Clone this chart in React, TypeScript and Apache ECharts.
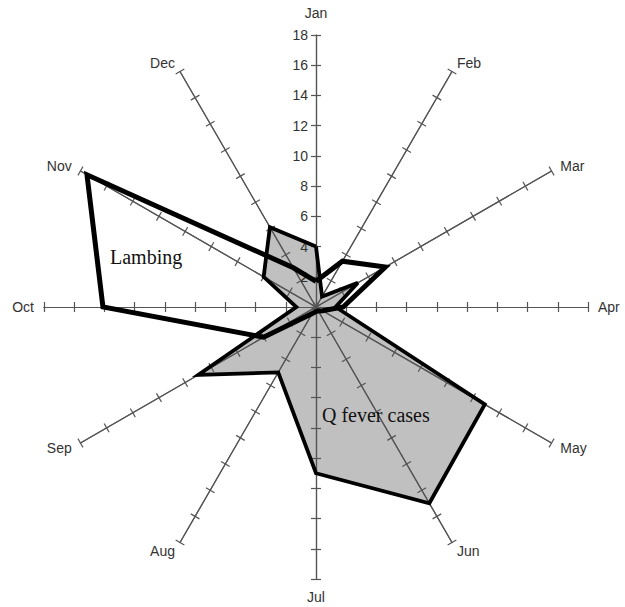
import React, { useEffect, useRef } from "react";
import * as echarts from "echarts";

const months = ["Jan", "Feb", "Mar", "Apr", "May", "Jun", "Jul", "Aug", "Sep", "Oct", "Nov", "Dec"];
const qFeverCases = [4, 0.8, 3.2, 1.3, 12.9, 15, 11, 5, 9, 1.3, 4, 6.1];
const lambing = [1.7, 3.5, 5.3, 1.8, 0.5, 0.3, 0.3, 0.5, 4, 14.1, 17.5, 3];
const axisMax = 18;
const axisStep = 2;

// ECharts lays radar indicators counter-clockwise; reorder so months run clockwise.
const order = [0, 11, 10, 9, 8, 7, 6, 5, 4, 3, 2, 1];

export default function App() {
  const ref = useRef<HTMLDivElement>(null);

  useEffect(() => {
    if (!ref.current) return;
    const chart = echarts.init(ref.current, undefined, { renderer: "svg" });
    const font = "'Liberation Sans', Arial, sans-serif";
    const nameGapFor = (m: string) => (m === "Jan" ? 15 : m === "Jul" ? 11 : 10);

    const indicatorsMain = order.map((i) => {
      const m = months[i];
      const ind: any = { name: m, min: 0, max: axisMax, nameGap: nameGapFor(m) };
      if (m === "Jan") {
        ind.axisLabel = {
          show: true,
          color: "#333",
          fontSize: 14,
          fontFamily: font,
          margin: 8,
          formatter: (v: number) => (v === 0 ? "" : String(v)),
        };
      }
      return ind;
    });
    const indicatorsTicks = order.map((i) => ({ name: months[i], min: 0, max: axisMax }));

    const common = {
      center: [316, 307],
      radius: 272,
      startAngle: 90,
      splitNumber: axisMax / axisStep,
      shape: "polygon",
      splitLine: { show: false },
      splitArea: { show: false },
      z: 3,
    };
    const axisColor = "#555";

    const qValues = order.map((i) => qFeverCases[i]);
    const lValues = order.map((i) => lambing[i]);

    chart.setOption({
      animation: false,
      backgroundColor: "#ffffff",
      radar: [
        {
          ...common,
          indicator: indicatorsMain,
          axisName: { color: "#333", fontSize: 14, fontFamily: font },
          axisLine: { show: true, lineStyle: { color: axisColor, width: 1.2 } },
          axisTick: { show: true, inside: false, length: 5, lineStyle: { color: axisColor, width: 1.2 } },
          axisLabel: { show: false },
        },
        {
          ...common,
          indicator: indicatorsTicks,
          axisName: { show: false },
          axisLine: { show: true, lineStyle: { color: axisColor, width: 1.2 } },
          axisTick: { show: true, inside: false, length: -5, lineStyle: { color: axisColor, width: 1.2 } },
          axisLabel: { show: false },
        },
      ],
      series: [
        {
          type: "radar",
          radarIndex: 0,
          z: 1,
          symbol: "none",
          data: [
            {
              name: "Q fever cases",
              value: qValues,
              areaStyle: { color: "#c0c0c0", opacity: 1 },
              lineStyle: { width: 0, opacity: 0 },
            },
          ],
        },
        {
          type: "radar",
          radarIndex: 0,
          z: 4,
          symbol: "none",
          data: [
            {
              name: "Q fever cases outline",
              value: qValues,
              lineStyle: { color: "#000", width: 3.8, join: "miter", miterLimit: 4 },
            },
            {
              name: "Lambing",
              value: lValues,
              lineStyle: { color: "#000", width: 5, join: "miter", miterLimit: 4 },
            },
          ],
        },
      ],
      graphic: [
        {
          type: "text",
          left: 110,
          top: 247,
          z: 10,
          style: {
            text: "Lambing",
            fill: "#111",
            font: "20px 'Liberation Serif', 'Times New Roman', serif",
          },
        },
        {
          type: "text",
          left: 322,
          top: 405,
          z: 10,
          style: {
            text: "Q fever cases",
            fill: "#111",
            font: "20px 'Liberation Serif', 'Times New Roman', serif",
          },
        },
      ],
    });

    return () => chart.dispose();
  }, []);

  return (
    <div
      ref={ref}
      style={{ position: "fixed", left: 0, top: 0, width: 625, height: 607, background: "#fff" }}
    />
  );
}
